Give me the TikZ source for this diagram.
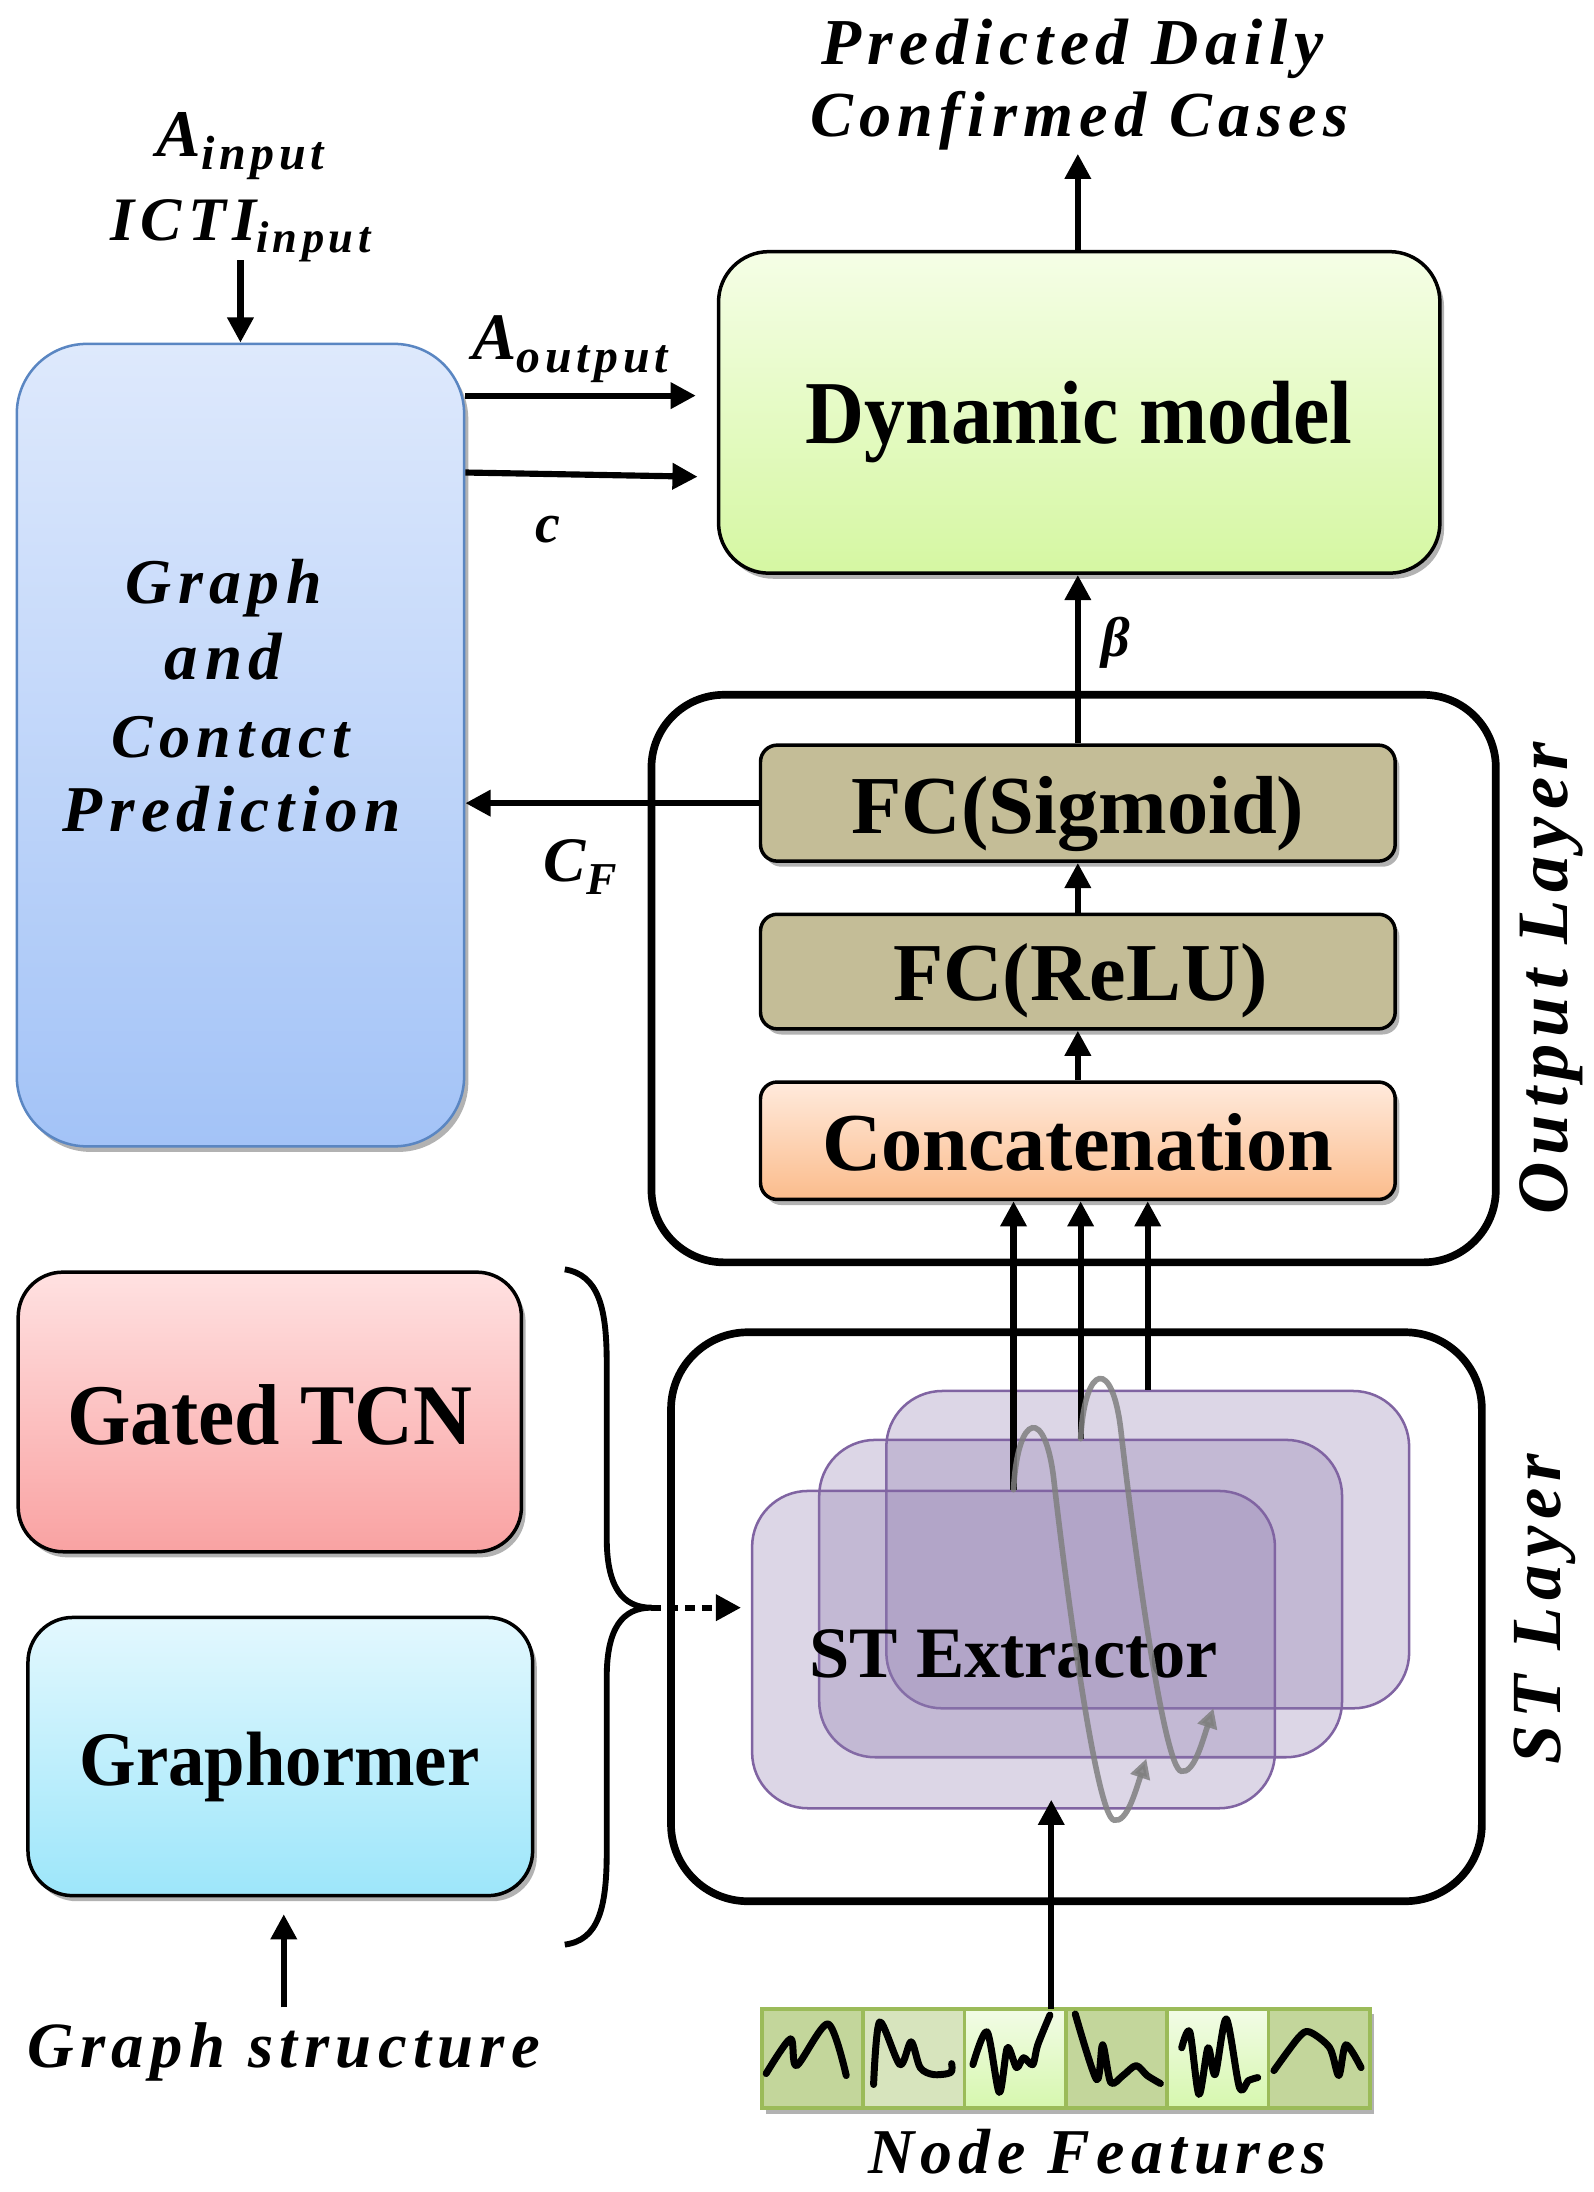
\documentclass[tikz,border=0pt]{standalone}
\usepackage{fontspec}
\usepackage{graphicx}
\setmainfont{Liberation Serif}
\newfontfamily\labfont[LetterSpace=10]{Liberation Serif}
\usetikzlibrary{arrows.meta,shadows,calc}
\newcommand\lab[2]{\resizebox{#1pt}{!}{\fontsize{40}{44}\labfont\bfseries\itshape #2}}
\newcommand\bxt[3][1]{\scalebox{1}[#1]{\resizebox{#2pt}{!}{\fontsize{58}{62}\selectfont\bfseries #3}}}
\newcommand\sbs[1]{\raisebox{-0.2em}{\scalebox{0.72}{#1}}}
\definecolor{gtop}{HTML}{DEE9FC}
\definecolor{gbot}{HTML}{A3C3F7}
\definecolor{gbord}{HTML}{5A86C2}
\definecolor{dtop}{HTML}{F5FEE6}
\definecolor{dbot}{HTML}{D5F7A2}
\definecolor{khaki}{HTML}{C4BD97}
\definecolor{ctop}{HTML}{FFEADC}
\definecolor{cbot}{HTML}{FBBC8C}
\definecolor{ptop}{HTML}{FFE1E1}
\definecolor{pbot}{HTML}{F9A2A2}
\definecolor{btop}{HTML}{E3F8FE}
\definecolor{bbot}{HTML}{9DE6FA}
\definecolor{cardc}{rgb}{0.55,0.47,0.68}
\definecolor{cardb}{HTML}{8064A2}
\definecolor{nfa}{HTML}{C3D69B}
\definecolor{nfc}{HTML}{D7E4BD}
\definecolor{nfl}{HTML}{F2FCE6}
\definecolor{nfd}{HTML}{D6F7AE}
\definecolor{nfb}{HTML}{9BBB59}
\begin{document}
\begin{tikzpicture}[x=1pt,y=-1pt,
  arr/.style={-{Triangle[length=18pt,width=18pt]}, line width=4.4pt},
  garr/.style={-{Triangle[length=14pt,width=14pt]}, line width=4pt, draw=black!50, opacity=0.85, line cap=round},
  shd/.style={drop shadow={shadow xshift=3pt,shadow yshift=-4pt,opacity=0.3,fill=black}},
  blk/.style={draw, inner sep=0pt, line width=2.5pt},
  layer/.style={draw, inner sep=0pt, line width=5.5pt, rounded corners=52pt, fill=white},
  cardn/.style={draw=cardb, line width=1.8pt, fill=cardc, fill opacity=0.3, inner sep=0pt,
     rounded corners=40pt, minimum width=374pt, minimum height=227pt},
  cell/.style={draw=nfb, line width=2.6pt, inner sep=0pt, minimum width=72.5pt, minimum height=71pt},
  sq/.style={line width=5pt, line cap=round, line join=round},
  txt/.style={inner sep=0pt},
  btx/.style={inner sep=0pt, anchor=base}]
\useasboundingbox (0,0) rectangle (1140,1568);
\fill[white] (0,0) rectangle (1140,1568);

% ---------- top: graph & contact prediction, dynamic model ----------
\node[draw=gbord, line width=1.8pt, rounded corners=50pt, top color=gtop, bottom color=gbot,
      minimum width=320pt, minimum height=574pt, inner sep=0pt, shd] (graph) at (172,533) {};
\node[btx] (g1) at (160,432) {\lab{140}{Graph}};
\node[btx] (g2) at (160,486) {\lab{84}{and}};
\node[btx] (g3) at (165,542) {\lab{170}{Contact}};
\node[btx] (g4) at (166,595) {\lab{242}{Prediction}};

\node[blk, rounded corners=36pt, top color=dtop, bottom color=dbot,
      minimum width=516pt, minimum height=230pt, shd] (dyn) at (772,295) {};
\node[btx] (dynt) at (772,317) {\bxt[1.1]{391}{Dynamic model}};

\node[btx] (t1) at (767,46) {\lab{359}{Predicted Daily}};
\node[btx] (t2) at (772,98) {\lab{385}{Confirmed Cases}};
\coordinate (tt) at (771,110);
\draw[arr] (dyn.north -| tt) -- (tt);

\node[btx] (ain) at (172,112) {\lab{120}{A\sbs{input}}};
\node[btx] (icti) at (172,172) {\lab{186}{ICTI\sbs{input}}};
\coordinate (gin) at (172,186);
\draw[arr] (gin) -- (graph.north -| gin);

\node[btx] (aout) at (408,257) {\lab{140}{A\sbs{output}}};
\draw[arr, shorten >=15pt] (graph.east |- 0,283) -- (dyn.west |- 0,283);
\node[btx] (cl) at (392,388) {\fontsize{40}{44}\labfont\bfseries\itshape c};
\draw[arr] (graph.east |- 0,338) -- (499,341);

% ---------- output layer ----------
\node[layer, minimum width=604pt, minimum height=406pt] (outl) at (768,700) {};
\node[txt, rotate=90] (outt) at (1110,700) {\lab{338}{Output Layer}};
\node[blk, rounded corners=12pt, fill=khaki, minimum width=454pt, minimum height=83pt, shd] (sig) at (771,574.5) {};
\node[btx] at (771,596) {\bxt{324}{FC(Sigmoid)}};
\node[blk, rounded corners=12pt, fill=khaki, minimum width=454pt, minimum height=82pt, shd] (relu) at (771,695) {};
\node[btx] at (773,716) {\bxt{268}{FC(ReLU)}};
\node[blk, rounded corners=12pt, top color=ctop, bottom color=cbot, minimum width=454pt, minimum height=84pt, shd] (concat) at (771,816) {};
\node[btx] at (771,837) {\bxt{366}{Concatenation}};
\draw[arr] (relu.north) -- (sig.south);
\draw[arr] (concat.north) -- (relu.south);
\draw[arr] (sig.north) -- (dyn.south -| sig.north);
\node[txt] (beta) at (798,460) {\fontsize{40}{44}\labfont\bfseries\itshape β};
\draw[arr] (sig.west) -- (graph.east |- sig.west);
\node[txt] (cf) at (415,620) {\lab{52}{C\sbs{F}}};

% ---------- ST layer ----------
\node[layer, rounded corners=55pt, minimum width=580pt, minimum height=407pt] (stl) at (770,1156.5) {};
\node[txt, rotate=90] (stt) at (1105,1151) {\lab{222}{ST Layer}};
\node[cardn] (card3) at (821,1108.5) {};
\node[cardn] (card2) at (773,1143.5) {};
\node[cardn] (card1) at (725,1180) {};
\node[btx] (ste) at (725,1200) {\bxt{292}{ST Extractor}};
\draw[arr] (card1.north) -- (card1.north |- concat.south);
\draw[arr] (card2.north) -- (card2.north |- concat.south);
\draw[arr] (card3.north) -- (card3.north |- concat.south);
\draw[garr] (card1.north) .. controls (728,1010) and (748,1005) .. (754,1060)
   .. controls (762,1130) and (784,1300) .. (797,1302)
   .. controls (806,1304) and (812,1282) .. (820,1258);
\draw[garr] (card2.north) .. controls (776,975) and (796,970) .. (802,1025)
   .. controls (810,1095) and (832,1265) .. (845,1267)
   .. controls (854,1269) and (860,1246) .. (868,1222);

% ---------- left lower ----------
\node[blk, rounded corners=32pt, top color=ptop, bottom color=pbot, minimum width=360pt, minimum height=200pt, shd] (gtcn) at (193,1010) {};
\node[btx] at (193,1033) {\bxt[1.06]{290}{Gated TCN}};
\node[blk, rounded corners=32pt, top color=btop, bottom color=bbot, minimum width=361pt, minimum height=199pt, shd] (gph) at (200.5,1256.5) {};
\node[btx] at (200,1277) {\bxt[1.06]{286}{Graphormer}};
\node[btx] (gs) at (203,1479) {\lab{367}{Graph structure}};
\coordinate (gsa) at (203,1436);
\draw[arr, shorten >=12pt] (gsa) -- (gph.south -| gsa);

\coordinate (bt) at (466,1150);
\draw[line width=4.2pt] (404,908) .. controls (428,912) and (434,935) .. (434,975) -- (434,1100)
   .. controls (434,1135) and (445,1150) .. (bt)
   .. controls (445,1150) and (434,1165) .. (434,1200) -- (434,1325)
   .. controls (434,1365) and (428,1388) .. (404,1391);
\draw[arr, dash pattern=on 7pt off 5pt, shorten >=7pt] (bt) -- (card1.west |- bt);

% ---------- node features ----------
\node[cell, fill=nfa, shd] (f1) at (581.25,1472.5) {};
\node[cell, fill=nfc, shd] (f2) at (653.75,1472.5) {};
\node[cell, top color=nfl, bottom color=nfd, shd] (f3) at (726.25,1472.5) {};
\node[cell, fill=nfa, shd] (f4) at (798.75,1472.5) {};
\node[cell, top color=nfl, bottom color=nfd, shd] (f5) at (871.25,1472.5) {};
\node[cell, fill=nfa, shd] (f6) at (943.75,1472.5) {};
\begin{scope}[shift={(f1.north west)}, x=72.5pt, y=-71pt]
\draw[sq] plot[smooth, tension=0.5] coordinates {(0.06,0.67) (0.30,0.32) (0.36,0.59) (0.67,0.17) (0.85,0.69)};
\end{scope}
\begin{scope}[shift={(f2.north west)}, x=72.5pt, y=-71pt]
\draw[sq] plot[smooth, tension=0.5] coordinates {(0.12,0.78) (0.18,0.15) (0.38,0.58) (0.49,0.35) (0.58,0.61) (0.71,0.68) (0.88,0.66) (0.89,0.57)};
\end{scope}
\begin{scope}[shift={(f3.north west)}, x=72.5pt, y=-71pt]
\draw[sq] plot[smooth, tension=0.5] coordinates {(0.10,0.58) (0.24,0.25) (0.36,0.86) (0.44,0.41) (0.53,0.61) (0.60,0.51) (0.69,0.58) (0.74,0.38) (0.86,0.08)};
\end{scope}
\begin{scope}[shift={(f4.north west)}, x=72.5pt, y=-71pt]
\draw[sq] plot[smooth, tension=0.5] coordinates {(0.11,0.07) (0.32,0.73) (0.38,0.38) (0.46,0.76) (0.58,0.69) (0.71,0.59) (0.82,0.69) (0.95,0.77)};
\end{scope}
\begin{scope}[shift={(f5.north west)}, x=72.5pt, y=-71pt]
\draw[sq] plot[smooth, tension=0.5] coordinates {(0.16,0.41) (0.24,0.25) (0.33,0.88) (0.42,0.41) (0.49,0.68) (0.60,0.12) (0.73,0.81) (0.82,0.74) (0.91,0.71)};
\end{scope}
\begin{scope}[shift={(f6.north west)}, x=72.5pt, y=-71pt]
\draw[sq] plot[smooth, tension=0.5] coordinates {(0.07,0.64) (0.31,0.31) (0.42,0.25) (0.62,0.41) (0.71,0.69) (0.78,0.38) (0.93,0.61)};
\end{scope}
\node[btx] (nf) at (785,1555) {\lab{328}{Node Features}};
\coordinate (nfa) at (752,1437);
\draw[arr, shorten >=-7pt] (nfa) -- (card1.south -| nfa);
\end{tikzpicture}
\end{document}
